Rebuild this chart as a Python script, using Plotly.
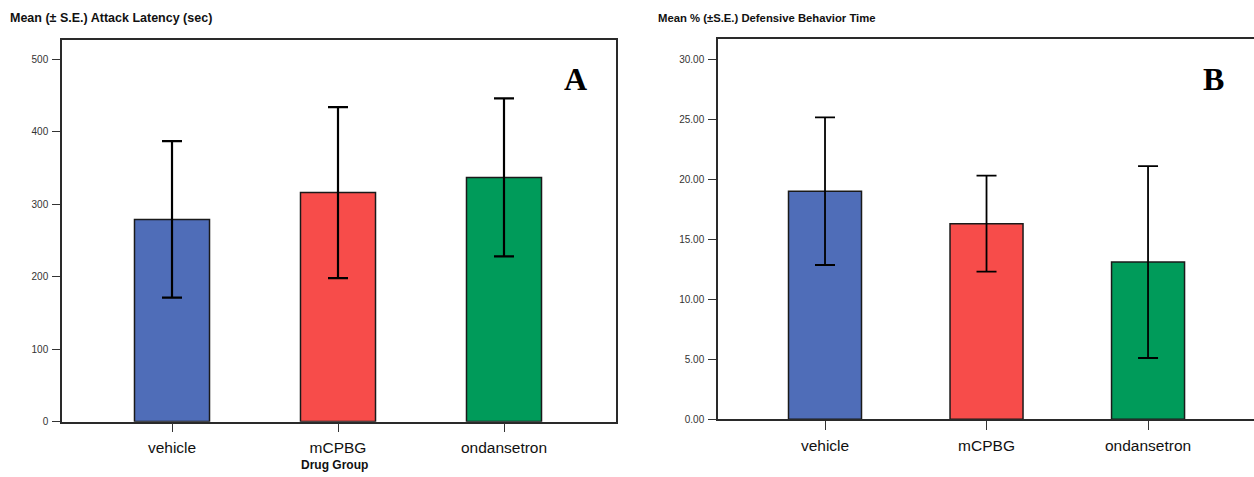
import plotly.graph_objects as go

# ---- data ----
groups = ["vehicle", "mCPBG", "ondansetron"]
latency_mean = [279, 316, 337]
latency_se = [108, 118, 109]
defensive_mean = [19.0, 16.3, 13.1]
defensive_se = [6.15, 4.0, 8.0]
latency_ticks = [0, 100, 200, 300, 400, 500]
defensive_ticks = [0, 5, 10, 15, 20, 25, 30]
bar_colors = ["#4F6DB8", "#F74C4A", "#009B5A"]

W, H = 1254, 477
SANS = "Liberation Sans, Arial, sans-serif"
SERIF = "Liberation Serif, Times New Roman, serif"

fig = go.Figure()

fig.add_trace(go.Bar(
    x=groups, y=latency_mean, xaxis="x", yaxis="y",
    width=0.452,
    marker=dict(color=bar_colors, line=dict(color="#1a1a1a", width=1.5)),
    error_y=dict(type="data", array=latency_se, symmetric=True,
                 color="black", thickness=2.2, width=10),
    showlegend=False, hoverinfo="x+y",
))
fig.add_trace(go.Bar(
    x=groups, y=defensive_mean, xaxis="x2", yaxis="y2",
    width=0.452,
    marker=dict(color=bar_colors, line=dict(color="#1a1a1a", width=1.5)),
    error_y=dict(type="data", array=defensive_se, symmetric=True,
                 color="black", thickness=1.8, width=10),
    showlegend=False, hoverinfo="x+y",
))

def px_x(p):
    return p / W

def px_y(p):
    return (H - p) / H

axis_line = dict(showline=True, linecolor="#2a2a2a", linewidth=1.5,
                 showgrid=False, zeroline=False)

fig.update_layout(
    width=W, height=H,
    margin=dict(l=0, r=0, t=0, b=0),
    paper_bgcolor="white", plot_bgcolor="white",
    bargap=0.5,
    xaxis=dict(domain=[px_x(62), px_x(616)], anchor="y",
               range=[-0.6627, 2.6747], mirror=True,
               ticks="outside", ticklen=9, tickwidth=1.3, tickcolor="#333",
               ticklabelstandoff=2,
               tickfont=dict(family=SANS, size=15.5, color="#111"),
               **axis_line),
    yaxis=dict(domain=[px_y(427), px_y(41)], anchor="x",
               range=[0, 525.9], mirror=True,
               tickvals=latency_ticks,
               ticktext=[str(v) for v in latency_ticks],
               ticks="outside", ticklen=8, tickwidth=1.3, tickcolor="#333",
               ticklabelstandoff=2,
               tickfont=dict(family=SANS, size=10, color="#333"),
               **axis_line),
    xaxis2=dict(domain=[px_x(718), 1.0], anchor="y2",
                range=[-0.6625, 2.656], mirror=True,
                ticks="outside", ticklen=9, tickwidth=1.3, tickcolor="#333",
                ticklabelstandoff=2,
                tickfont=dict(family=SANS, size=15.5, color="#111"),
                **axis_line),
    yaxis2=dict(domain=[px_y(424.5), px_y(40)], anchor="x2",
                range=[0, 31.65],
                tickvals=defensive_ticks,
                ticktext=["%.2f" % v for v in defensive_ticks],
                ticks="outside", ticklen=8, tickwidth=1.3, tickcolor="#333",
                ticklabelstandoff=2,
                tickfont=dict(family=SANS, size=10, color="#333"),
                **axis_line),
    annotations=[
        dict(text="<b>Mean (± S.E.) Attack Latency (sec)</b>",
             x=px_x(8), y=px_y(18), xref="paper", yref="paper",
             xanchor="left", yanchor="middle", showarrow=False,
             font=dict(family=SANS, size=12.5, color="#111")),
        dict(text="<b>Mean % (±S.E.) Defensive Behavior Time</b>",
             x=px_x(656), y=px_y(18), xref="paper", yref="paper",
             xanchor="left", yanchor="middle", showarrow=False,
             font=dict(family=SANS, size=11.3, color="#111")),
        dict(text="<b>Drug Group</b>",
             x=px_x(334), y=px_y(471), xref="paper", yref="paper",
             xanchor="center", yanchor="middle", showarrow=False,
             font=dict(family=SANS, size=12, color="#111")),
        dict(text="<b>A</b>",
             x=px_x(575.5), y=px_y(80), xref="paper", yref="paper",
             xanchor="center", yanchor="middle", showarrow=False,
             font=dict(family=SERIF, size=32, color="black")),
        dict(text="<b>B</b>",
             x=px_x(1213), y=px_y(80), xref="paper", yref="paper",
             xanchor="center", yanchor="middle", showarrow=False,
             font=dict(family=SERIF, size=32, color="black")),
    ],
)

post = (
    "var h=document.documentElement,b=document.body;"
    "[h,b].forEach(function(e){e.style.margin='0';e.style.padding='0';"
    "e.style.overflow='hidden';e.style.height='477px';e.style.width='1254px';});"
)

fig.write_html(
    "out.html",
    config={"displayModeBar": False},
    post_script=post,
)
